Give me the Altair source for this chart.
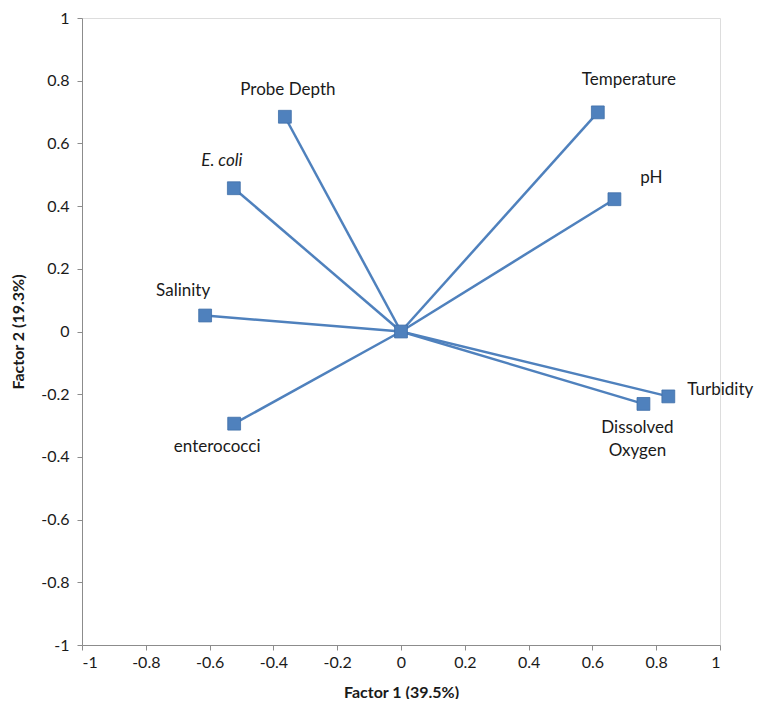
import altair as alt
import pandas as pd

# ---- data ----
variables = ["Probe Depth", "E. coli", "Salinity", "enterococci",
             "Temperature", "pH", "Turbidity", "Dissolved Oxygen"]
factor1 = [-0.364, -0.524, -0.614, -0.523, 0.617, 0.669, 0.838, 0.760]
factor2 = [0.685, 0.457, 0.051, -0.294, 0.699, 0.422, -0.207, -0.231]
tick_values = [-1, -0.8, -0.6, -0.4, -0.2, 0, 0.2, 0.4, 0.6, 0.8, 1]

BLUE = "#4F81BD"
FONT = "Lato"

# rays from origin to each loading
rows = []
for v, a, b in zip(variables, factor1, factor2):
    rows.append({"var": v, "order": 0, "f1": 0.0, "f2": 0.0})
    rows.append({"var": v, "order": 1, "f1": a, "f2": b})
rays = pd.DataFrame(rows)

pts = pd.DataFrame({"var": variables + ["origin"],
                    "f1": factor1 + [0.0], "f2": factor2 + [0.0]})

label_expr = "datum.value == 0 ? '0' : (datum.value < 0 ? '-' : '') + format(abs(datum.value), '~g')"

xscale = alt.Scale(domain=[-1, 1], nice=False, zero=False)
yscale = alt.Scale(domain=[-1, 1], nice=False, zero=False)

axis_common = dict(values=tick_values, grid=False, labelExpr=label_expr,
                   domainColor="#8c8c8c", tickColor="#8c8c8c", tickSize=5,
                   labelFont=FONT, labelFontSize=16, labelColor="#1a1a1a",
                   titleFont=FONT, titleFontSize=16, titleFontWeight="bold",
                   titleColor="#1a1a1a")

x_enc = alt.X("f1:Q", scale=xscale,
              axis=alt.Axis(title="Factor 1 (39.5%)", labelPadding=4,
                            titlePadding=14, **axis_common))
y_enc = alt.Y("f2:Q", scale=yscale,
              axis=alt.Axis(title="Factor 2 (19.3%)", labelPadding=8,
                            titlePadding=14, **axis_common))

lines = alt.Chart(rays).mark_line(color=BLUE, strokeWidth=2.5).encode(
    x=x_enc, y=y_enc, detail="var:N", order="order:Q")

squares = alt.Chart(pts).mark_square(color=BLUE, opacity=1, size=165,
                                     stroke="#3f6fa8", strokeWidth=0.8).encode(
    x="f1:Q", y="f2:Q")

# label placement (styling only)
label_style = {
    "Probe Depth": dict(dx=3, dy=-27, align="center", baseline="middle"),
    "E. coli": dict(dx=-12, dy=-27, align="center", baseline="middle", fontStyle="italic"),
    "Salinity": dict(dx=-22, dy=-25, align="center", baseline="middle"),
    "enterococci": dict(dx=-17, dy=23, align="center", baseline="middle"),
    "Temperature": dict(dx=31, dy=-32, align="center", baseline="middle"),
    "pH": dict(dx=37, dy=-21, align="center", baseline="middle"),
    "Turbidity": dict(dx=19, dy=-6, align="left", baseline="middle"),
    "Dissolved Oxygen": dict(dx=-6, dy=16, align="center", baseline="top", lineHeight=23),
}

label_layers = []
for v, a, b in zip(variables, factor1, factor2):
    st = label_style[v]
    text = "Dissolved\nOxygen" if v == "Dissolved Oxygen" else v
    df = pd.DataFrame({"f1": [a], "f2": [b], "label": [text]})
    label_layers.append(
        alt.Chart(df).mark_text(font=FONT, fontSize=17, color="#1a1a1a",
                                lineBreak="\n", **st).encode(
            x="f1:Q", y="f2:Q", text="label:N"))

chart = alt.layer(lines, squares, *label_layers).properties(
    width=638, height=627,
    autosize=alt.AutoSizeParams(type="none"),
    padding={"left": 74, "top": 10, "right": 42, "bottom": 54},
).configure_view(stroke=None).configure(background="white")

chart.save("out.html", embed_options={"renderer": "svg", "actions": False})
